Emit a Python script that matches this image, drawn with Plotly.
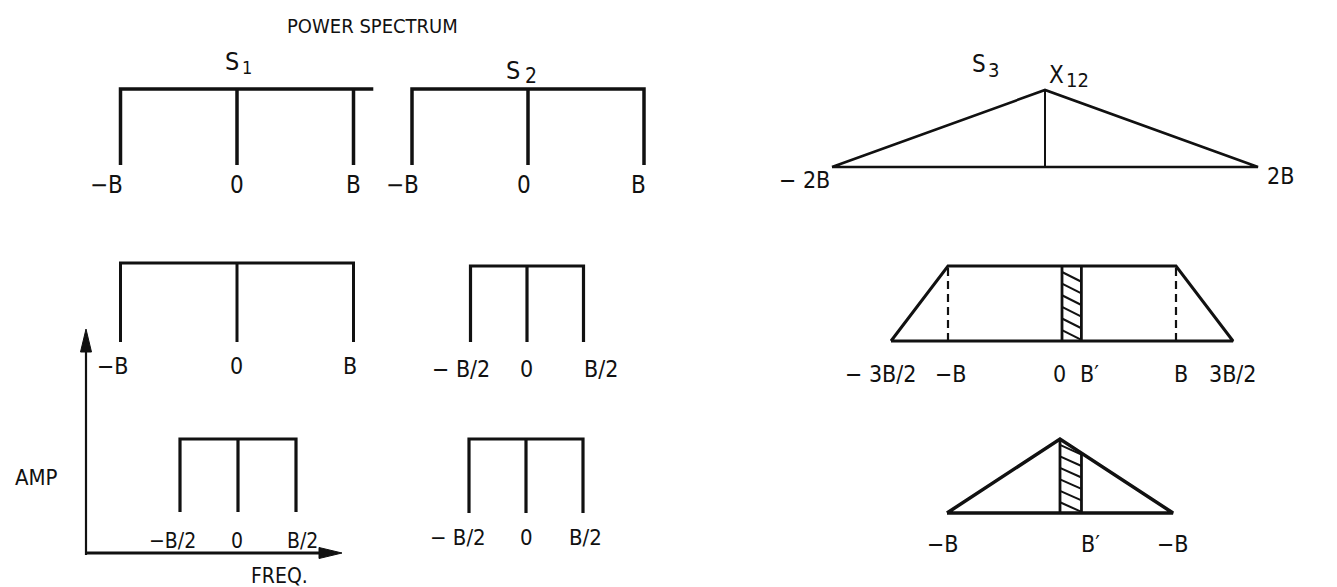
import plotly.graph_objects as go

# ---------------- data (frequencies in units of B, amplitude normalised) ----------------
TITLE = "POWER SPECTRUM"

# left two columns: flat (rectangular) spectra, lines drawn at these frequencies
S1_ROW1_FREQ = [-1.0, 0.0, 1.0]
S2_ROW1_FREQ = [-1.0, 0.0, 1.0]
S1_ROW2_FREQ = [-1.0, 0.0, 1.0]
S2_ROW2_FREQ = [-0.5, 0.0, 0.5]
S1_ROW3_FREQ = [-0.5, 0.0, 0.5]
S2_ROW3_FREQ = [-0.5, 0.0, 0.5]
S1_ROW1_BAR_END = 1.17          # top bar of S1 overshoots past B in the drawing
FLAT_AMP = 1.0

# right column: cross spectrum X12
X12_ROW1_FREQ = [-2.0, 0.0, 2.0]
X12_ROW1_AMP = [0.0, 1.0, 0.0]
X12_ROW2_FREQ = [-1.5, -1.0, 1.0, 1.5]
X12_ROW2_AMP = [0.0, 1.0, 1.0, 0.0]
X12_ROW3_FREQ = [-1.0, 0.0, 1.0]
X12_ROW3_AMP = [0.0, 1.0, 0.0]
B_PRIME_ROW2 = 0.17
B_PRIME_ROW3 = 0.19

# tick labels (text, frequency)
LBL_R1C1 = (["−B", "0", "B"], [-1.0, 0.0, 1.0])
LBL_R1C2 = (["−B", "0", "B"], [-1.0, 0.0, 1.0])
LBL_R2C1 = (["−B", "0", "B"], [-1.0, 0.0, 1.0])
LBL_R2C2 = (["− B/2", "0", "B/2"], [-0.5, 0.0, 0.5])
LBL_R3C1 = (["−B/2", "0", "B/2"], [-0.5, 0.0, 0.5])
LBL_R3C2 = (["− B/2", "0", "B/2"], [-0.5, 0.0, 0.5])
LBL_R1C3 = (["− 2B", "2B"], [-2.0, 2.0])
LBL_R2C3 = (["− 3B/2", "−B", "0", "B′", "B", "3B/2"], [-1.5, -1.0, 0.0, B_PRIME_ROW2, 1.0, 1.5])
LBL_R3C3 = (["−B", "B′", "−B"], [-1.0, B_PRIME_ROW3, 1.0])

# spectrum names (symbol, subscript)
NAMES = [("S", "1"), ("S", "2"), ("S", "3"), ("X", "12")]

# ---------------- layout / style (pixel geometry of each panel) ----------------
W, H = 1337, 587
FONT = "DejaVu Sans Condensed, Liberation Sans, sans-serif"
INK = "#111111"

# panel: centre x px, px per B, baseline y px, top (amp=1) y px, x range
PANELS = {
    "r1c1": dict(cx=237, s=116.5, base=165, top=89, xr=(-1.6, 1.6)),
    "r1c2": dict(cx=528, s=116, base=165, top=89, xr=(-1.6, 1.6)),
    "r2c1": dict(cx=237, s=116.5, base=342, top=263, xr=(-1.6, 1.6)),
    "r2c2": dict(cx=527, s=113, base=342, top=266, xr=(-1.6, 1.6)),
    "r3c1": dict(cx=238, s=116, base=512, top=439, xr=(-1.6, 1.6)),
    "r3c2": dict(cx=526, s=114, base=513, top=439, xr=(-1.6, 1.6)),
    "r1c3": dict(cx=1045, s=106.5, base=167, top=90, xr=(-2.3, 2.3)),
    "r2c3": dict(cx=1062, s=114, base=341, top=266, xr=(-2.3, 2.3)),
    "r3c3": dict(cx=1060, s=113, base=513, top=439, xr=(-2.3, 2.3)),
}
YR = (-0.6, 1.3)

# hatching style (amplitude units): starting heights step, drop across the strip
HATCH_STEP = 0.155
HATCH_FIRST = 0.92
HATCH_DROP = 0.13


def px(x):
    return x / W


def py(y):
    return 1 - y / H


fig = go.Figure()
axis_ids = {}
layout_axes = {}
for i, (name, p) in enumerate(PANELS.items(), start=1):
    sfx = "" if i == 1 else str(i)
    axis_ids[name] = ("x" + sfx, "y" + sfx)
    h = p["base"] - p["top"]
    x0 = px(p["cx"] + p["xr"][0] * p["s"])
    x1 = px(p["cx"] + p["xr"][1] * p["s"])
    y0 = py(p["base"] - YR[0] * h)
    y1 = py(p["base"] - YR[1] * h)
    layout_axes["xaxis" + sfx] = dict(domain=[x0, x1], range=list(p["xr"]), visible=False,
                                      anchor="y" + sfx, fixedrange=True)
    layout_axes["yaxis" + sfx] = dict(domain=[y0, y1], range=list(YR), visible=False,
                                      anchor="x" + sfx, fixedrange=True)


def add_line(panel, xs, ys, width, dash="solid"):
    xa, ya = axis_ids[panel]
    fig.add_trace(go.Scatter(x=xs, y=ys, xaxis=xa, yaxis=ya, mode="lines",
                             line=dict(color=INK, width=width, dash=dash),
                             hoverinfo="skip", showlegend=False, cliponaxis=False))


def flat_spectrum(panel, freqs, width, bar_end=None):
    lo, hi = freqs[0], freqs[-1]
    if bar_end is None:
        add_line(panel, [lo, lo, hi, hi], [0, FLAT_AMP, FLAT_AMP, 0], width)
        inner = freqs[1:-1]
    else:
        add_line(panel, [lo, lo, bar_end], [0, FLAT_AMP, FLAT_AMP], width)
        inner = freqs[1:]
    xs, ys = [], []
    for f in inner:
        xs += [f, f, None]
        ys += [0, FLAT_AMP, None]
    add_line(panel, xs, ys, width)


flat_spectrum("r1c1", S1_ROW1_FREQ, 3.5, bar_end=S1_ROW1_BAR_END)
flat_spectrum("r1c2", S2_ROW1_FREQ, 3.5)
flat_spectrum("r2c1", S1_ROW2_FREQ, 3.0)
flat_spectrum("r2c2", S2_ROW2_FREQ, 3.2)
flat_spectrum("r3c1", S1_ROW3_FREQ, 3.2)
flat_spectrum("r3c2", S2_ROW3_FREQ, 3.2)

# X12 row 1: triangle with centre line
add_line("r1c3", X12_ROW1_FREQ + [X12_ROW1_FREQ[0]], X12_ROW1_AMP + [X12_ROW1_AMP[0]], 2.6)
add_line("r1c3", [0, 0], [0, max(X12_ROW1_AMP)], 2.0)


def hatched_strip(panel, bp, top_right):
    # outline of the strip 0..B'
    add_line(panel, [0, 0, None, bp, bp], [0, 1, None, 0, top_right], 2.8)
    # diagonal hatching inside the strip
    xs, ys = [], []
    y_start = HATCH_FIRST
    while y_start > 0:
        y_end = y_start - HATCH_DROP
        if y_end >= 0:
            xs += [0, bp, None]
            ys += [y_start, y_end, None]
        else:
            xs += [0, bp * y_start / HATCH_DROP, None]
            ys += [y_start, 0, None]
        y_start -= HATCH_STEP
    add_line(panel, xs, ys, 2.0)


# X12 row 2: trapezoid, dashed lines at ±B, hatched strip 0..B'
hatched_strip("r2c3", B_PRIME_ROW2, 1.0)
add_line("r2c3", X12_ROW2_FREQ + [X12_ROW2_FREQ[0]], X12_ROW2_AMP + [X12_ROW2_AMP[0]], 3.0)
add_line("r2c3", [X12_ROW2_FREQ[1], X12_ROW2_FREQ[1], None, X12_ROW2_FREQ[2], X12_ROW2_FREQ[2]],
         [0, 1, None, 0, 1], 2.2, dash="8px,5px")

# X12 row 3: triangle with hatched strip 0..B'
peak = max(X12_ROW3_AMP)
hatched_strip("r3c3", B_PRIME_ROW3, peak * (1 - B_PRIME_ROW3 / X12_ROW3_FREQ[-1]))
add_line("r3c3", X12_ROW3_FREQ + [X12_ROW3_FREQ[0]], X12_ROW3_AMP + [X12_ROW3_AMP[0]], 3.5)

# ---------------- tick-like labels ----------------
# per panel: font size, (x shift, y shift) in px per label
LABEL_STYLE = {
    "r1c1": (LBL_R1C1, 24, [(-14, -20), (0, -20), (0, -20)]),
    "r1c2": (LBL_R1C2, 24, [(-10, -20), (-4, -20), (-6, -20)]),
    "r2c1": (LBL_R2C1, 23, [(-8, -24), (-1, -24), (-4, -24)]),
    "r2c2": (LBL_R2C2, 23, [(-10, -27), (-1, -27), (17, -27)]),
    "r3c1": (LBL_R3C1, 21, [(-7, -29), (-1, -29), (6, -29)]),
    "r3c2": (LBL_R3C2, 22, [(-11, -24), (0, -24), (2, -24)]),
    "r1c3": (LBL_R1C3, 23, [(-28, -13), (22, -9)]),
    "r2c3": (LBL_R2C3, 23, [(-10, -33), (3, -33), (-2, -33), (8, -33), (5, -33), (0, -33)]),
    "r3c3": (LBL_R3C3, 23, [(-4, -31), (9, -31), (0, -31)]),
}
annotations = []
for name, ((texts, freqs), fsize, shifts) in LABEL_STYLE.items():
    xa, ya = axis_ids[name]
    for t, f, (dx, dy) in zip(texts, freqs, shifts):
        annotations.append(dict(text=t, x=f, y=0, xref=xa, yref=ya, showarrow=False,
                                xanchor="center", yanchor="middle", xshift=dx, yshift=dy,
                                font=dict(family=FONT, size=fsize, color=INK)))


def paper_text(text, x, y, size):
    annotations.append(dict(text=text, x=px(x), y=py(y), xref="paper", yref="paper",
                            showarrow=False, xanchor="center", yanchor="middle",
                            font=dict(family=FONT, size=size, color=INK)))


paper_text(TITLE, 372, 26, 20)
paper_text("AMP", 36, 477, 22)
paper_text("FREQ.", 279, 576, 21)

# spectrum names: main letter and its (lowered) subscript placed separately
NAME_POS = [((232, 62, 25), (247, 68, 18)),
            ((513, 71, 25), (531, 76, 21)),
            ((979, 64, 24), (993, 70, 20)),
            ((1056, 75, 24), (1077, 80, 20))]
for (sym, sub), ((x1, y1, s1), (x2, y2, s2)) in zip(NAMES, NAME_POS):
    paper_text(sym, x1, y1, s1)
    paper_text(sub, x2, y2, s2)

# AMP / FREQ axis arrows as shapes
shapes = [
    dict(type="line", xref="paper", yref="paper", x0=px(86), y0=py(555), x1=px(86), y1=py(345),
         line=dict(color=INK, width=2.2)),
    dict(type="path", xref="paper", yref="paper", fillcolor=INK, line=dict(color=INK, width=1),
         path=f"M {px(86)},{py(329)} L {px(80.5)},{py(352)} L {px(91.5)},{py(352)} Z"),
    dict(type="line", xref="paper", yref="paper", x0=px(85), y0=py(553), x1=px(325), y1=py(553),
         line=dict(color=INK, width=3)),
    dict(type="path", xref="paper", yref="paper", fillcolor=INK, line=dict(color=INK, width=1),
         path=f"M {px(342)},{py(553)} L {px(319)},{py(547.5)} L {px(319)},{py(558.5)} Z"),
]

fig.update_layout(width=W, height=H, margin=dict(l=0, r=0, t=0, b=0),
                  paper_bgcolor="white", plot_bgcolor="rgba(0,0,0,0)", showlegend=False,
                  annotations=annotations, shapes=shapes, **layout_axes)

fig.write_html("out.html", config={"displayModeBar": False},
               post_script="document.body.style.margin='0px';")
